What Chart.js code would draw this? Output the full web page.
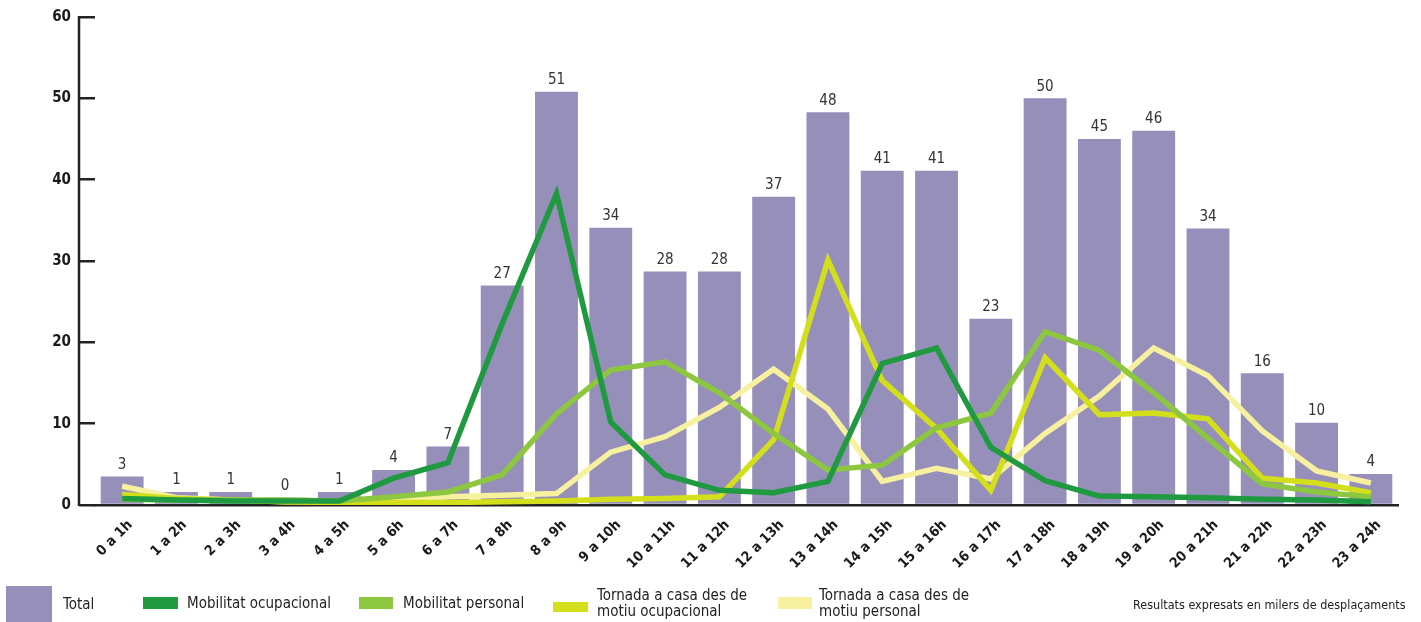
<!DOCTYPE html>
<html>
<head>
<meta charset="utf-8">
<script src="https://cdn.jsdelivr.net/npm/chart.js@4/dist/chart.umd.min.js"></script>
<style>
    body { margin: 0; background: #fff; }
    #wrap { position: relative; width: 1421px; height: 622px; }
    #legend div { position: absolute; }
    .lbl { font: 15px "DejaVu Sans Condensed", sans-serif; color: #222; line-height: 16px; white-space: nowrap; }
</style>
</head>
<body>
<div id="wrap">
    <canvas id="chart" width="1421" height="622"></canvas>
    <div id="legend"></div>
</div>
<script>
const hours = ['0 a 1h', '1 a 2h', '2 a 3h', '3 a 4h', '4 a 5h', '5 a 6h', '6 a 7h', '7 a 8h',
    '8 a 9h', '9 a 10h', '10 a 11h', '11 a 12h', '12 a 13h', '13 a 14h', '14 a 15h', '15 a 16h',
    '16 a 17h', '17 a 18h', '18 a 19h', '19 a 20h', '20 a 21h', '21 a 22h', '22 a 23h', '23 a 24h'];

const totalValues = [3.5, 1.6, 1.6, 0.9, 1.6, 4.3, 7.2, 27.0, 50.8, 34.1, 28.7, 28.7,
    37.9, 48.3, 41.1, 41.1, 22.9, 50.0, 45.0, 46.0, 34.0, 16.2, 10.1, 3.8];
const totalLabels = [3, 1, 1, 0, 1, 4, 7, 27, 51, 34, 28, 28, 37, 48, 41, 41, 23, 50, 45, 46, 34, 16, 10, 4];

const mobOcupacional = [0.8, 0.6, 0.5, 0.5, 0.5, 3.3, 5.2, 22.3, 38.3, 10.2, 3.7, 1.8,
    1.5, 2.9, 17.4, 19.3, 7.1, 3.0, 1.1, 1.0, 0.9, 0.7, 0.6, 0.4];
const mobPersonal = [0.7, 0.6, 0.6, 0.6, 0.5, 1.0, 1.6, 3.7, 11.2, 16.6, 17.6, 13.8,
    8.8, 4.3, 4.9, 9.5, 11.3, 21.3, 19.0, 13.8, 8.2, 2.6, 1.6, 1.0];
const tornadaOcupacional = [1.3, 0.8, 0.6, 0.4, 0.3, 0.3, 0.3, 0.4, 0.5, 0.7, 0.8, 1.0,
    8.0, 30.1, 15.3, 9.4, 1.8, 18.1, 11.1, 11.3, 10.6, 3.3, 2.7, 1.5];
const tornadaPersonal = [2.3, 0.9, 0.6, 0.4, 0.4, 0.6, 1.0, 1.2, 1.4, 6.5, 8.4, 12.0,
    16.7, 11.8, 2.9, 4.5, 3.2, 8.8, 13.4, 19.3, 15.9, 9.1, 4.2, 2.7];

const yTicks = [0, 10, 20, 30, 40, 50, 60];

const FONT = '"DejaVu Sans Condensed", sans-serif';
const colors = {
    total: '#968fba',
    mobOcup: '#1f9a40',
    mobPers: '#8dc63f',
    tornOcup: '#d4df1c',
    tornPers: '#f7f19f'
};
const TICK_LEN = 16;

function lineSet(label, data, color, order) {
    return {
        type: 'line',
        label: label,
        data: data,
        borderColor: color,
        backgroundColor: color,
        borderWidth: 5.5,
        pointRadius: 0,
        tension: 0,
        order: order
    };
}

// vertical y axis line at the outer end of the tick marks
const axisLine = {
    id: 'axisLine',
    beforeDatasetsDraw(chart) {
        const y = chart.scales.y;
        const ctx = chart.ctx;
        const x = y.right - TICK_LEN;
        ctx.save();
        ctx.strokeStyle = '#222';
        ctx.lineWidth = 2.5;
        ctx.beginPath();
        ctx.moveTo(x, y.getPixelForValue(60) - 1);
        ctx.lineTo(x, y.getPixelForValue(0) + 1);
        ctx.stroke();
        ctx.restore();
    }
};

// numbers above the bars
const barLabels = {
    id: 'barLabels',
    afterDatasetsDraw(chart) {
        const ctx = chart.ctx;
        const meta = chart.getDatasetMeta(0);
        ctx.save();
        ctx.font = '15px ' + FONT;
        ctx.fillStyle = '#333';
        ctx.textAlign = 'center';
        ctx.textBaseline = 'bottom';
        meta.data.forEach((bar, i) => {
            ctx.fillText(String(totalLabels[i]), bar.x, bar.y - 4);
        });
        ctx.restore();
    }
};

new Chart(document.getElementById('chart'), {
    type: 'bar',
    data: {
        labels: hours,
        datasets: [
            {
                label: 'Total',
                data: totalValues,
                backgroundColor: colors.total,
                barPercentage: 0.79,
                categoryPercentage: 1,
                order: 10
            },
            lineSet('Mobilitat ocupacional', mobOcupacional, colors.mobOcup, 1),
            lineSet('Mobilitat personal', mobPersonal, colors.mobPers, 2),
            lineSet('Tornada a casa des de motiu ocupacional', tornadaOcupacional, colors.tornOcup, 3),
            lineSet('Tornada a casa des de motiu personal', tornadaPersonal, colors.tornPers, 4)
        ]
    },
    options: {
        responsive: false,
        animation: false,
        layout: { padding: { top: 13, right: 23, bottom: 0, left: 0 } },
        plugins: {
            legend: { display: false },
            tooltip: { enabled: false }
        },
        scales: {
            x: {
                afterFit(scale) { scale.height = 117; },
                grid: { display: false },
                border: { display: true, color: '#222', width: 2.5 },
                ticks: {
                    color: '#1a1a1a',
                    font: { family: FONT, size: 14, weight: 'bold' },
                    minRotation: 45,
                    maxRotation: 45,
                    padding: 4,
                    labelOffset: 8,
                    autoSkip: false
                }
            },
            y: {
                min: 0,
                max: 60,
                afterFit(scale) { scale.width = 95; },
                afterBuildTicks(scale) { scale.ticks = yTicks.map(v => ({ value: v })); },
                border: { display: false },
                grid: {
                    drawOnChartArea: false,
                    drawTicks: true,
                    tickLength: TICK_LEN,
                    lineWidth: 2.5,
                    color: '#222'
                },
                ticks: {
                    color: '#1a1a1a',
                    font: { family: FONT, size: 15, weight: 'bold' },
                    padding: 8
                }
            }
        }
    },
    plugins: [axisLine, barLabels]
});

// legend below the chart
const legendItems = [
    { box: [6, 586, 46, 36], color: colors.total, text: 'Total', pos: [63, 596] },
    { box: [143, 597, 35, 12], color: colors.mobOcup, text: 'Mobilitat ocupacional', pos: [187, 595] },
    { box: [359, 597, 34, 12], color: colors.mobPers, text: 'Mobilitat personal', pos: [403, 595] },
    { box: [553, 602, 35, 10], color: colors.tornOcup, text: 'Tornada a casa des de<br>motiu ocupacional', pos: [597, 587] },
    { box: [778, 597, 34, 12], color: colors.tornPers, text: 'Tornada a casa des de<br>motiu personal', pos: [819, 587] }
];
const legend = document.getElementById('legend');
legendItems.forEach(item => {
    const box = document.createElement('div');
    box.style.left = item.box[0] + 'px';
    box.style.top = item.box[1] + 'px';
    box.style.width = item.box[2] + 'px';
    box.style.height = item.box[3] + 'px';
    box.style.background = item.color;
    legend.appendChild(box);

    const txt = document.createElement('div');
    txt.className = 'lbl';
    txt.style.left = item.pos[0] + 'px';
    txt.style.top = item.pos[1] + 'px';
    txt.innerHTML = item.text;
    legend.appendChild(txt);
});
const note = document.createElement('div');
note.className = 'lbl';
note.style.left = '1133px';
note.style.top = '597px';
note.style.fontSize = '12.5px';
note.textContent = 'Resultats expresats en milers de desplaçaments';
legend.appendChild(note);
</script>
</body>
</html>
